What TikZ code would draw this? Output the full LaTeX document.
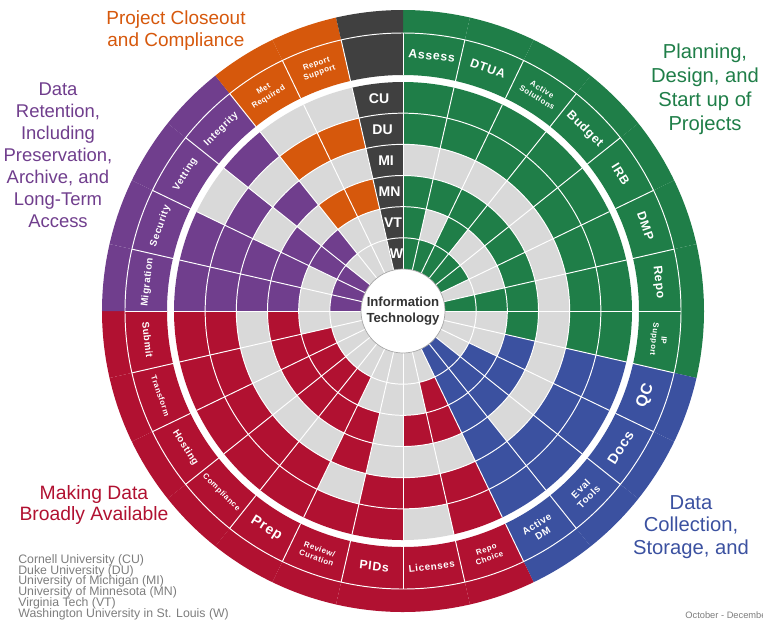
\documentclass[tikz,border=0pt]{standalone}
\usepackage{fontspec}
\setmainfont{Liberation Sans}
\newfontfamily\tagfont[LetterSpace=6]{Liberation Sans}
\newcommand{\packedlines}{\lineskiplimit=-10pt\lineskip=0pt\relax}

\definecolor{plangreen}{RGB}{31,126,72}
\definecolor{collectblue}{RGB}{59,81,160}
\definecolor{sharered}{RGB}{177,17,49}
\definecolor{keeppurple}{RGB}{112,62,141}
\definecolor{closeorange}{RGB}{214,88,12}
\definecolor{itgray}{RGB}{64,64,64}
\definecolor{cellgray}{RGB}{217,217,217}
\definecolor{notegray}{RGB}{125,125,125}

% one cell of the wheel: start angle, end angle, outer radius, inner radius, colour
\newcommand{\wheelcell}[5]{%
  \fill[fill=#5] (#1:#3) arc[start angle=#1,end angle=#2,radius=#3]
    -- (#2:#4) arc[start angle=#2,end angle=#1,radius=#4] -- cycle;}

\begin{document}
\begin{tikzpicture}
  [x=0.02cm,y=0.02cm,
   sep/.style={white,line width=0.55pt},
   tag/.style={text=white,align=center,inner sep=0pt},
   tagbig/.style={tag,font=\tagfont\bfseries\fontsize{7}{8}\selectfont},
   tagmid/.style={tag,font=\tagfont\bfseries\fontsize{5.6}{6.4}\selectfont},
   tagsmall/.style={tag,font=\tagfont\bfseries\fontsize{4.5}{5.3}\selectfont},
   site/.style={text=white,font=\bfseries\fontsize{8}{9}\selectfont},
   phase/.style={align=center,font=\fontsize{11.5}{13.6}\selectfont}]
  \useasboundingbox (-403,-309) rectangle (360,311);

  % services clockwise from the top; CU DU MI MN VT W, 1 = covered
  \foreach \j/\col/\ba/\bb/\bc/\bd/\be/\bf in {
      0/plangreen/1/1/0/1/1/1,   1/plangreen/1/1/0/1/0/1,
      2/plangreen/1/1/0/1/1/1,   3/plangreen/1/1/0/1/0/1,
      4/plangreen/1/1/0/1/0/1,   5/plangreen/1/1/0/1/0/0,
      6/plangreen/1/1/0/1/1/1,   7/plangreen/1/1/0/1/0/0,
      8/collectblue/1/1/0/1/0/0, 9/collectblue/1/1/0/1/1/0,
      10/collectblue/1/1/0/1/1/1, 11/collectblue/1/1/1/1/1/1,
      12/sharered/1/1/0/1/1/0,   13/sharered/0/1/0/1/0/0,
      14/sharered/1/1/0/0/0/0,   15/sharered/1/0/1/1/0/0,
      16/sharered/1/1/0/1/1/0,   17/sharered/1/1/0/1/1/0,
      18/sharered/1/1/0/1/1/0,   19/sharered/1/1/0/1/1/0,
      20/sharered/1/1/0/1/0/0,
      21/keeppurple/1/1/1/1/0/1, 22/keeppurple/1/1/1/1/0/1,
      23/keeppurple/0/1/0/1/1/1, 24/keeppurple/1/0/1/0/1/0,
      25/closeorange/0/1/0/1/0/0, 26/closeorange/0/1/0/1/0/0,
      27/itgray/1/1/1/1/1/1}{
    \pgfmathsetmacro\aa{90-\j*360/28}
    \pgfmathsetmacro\ab{\aa-360/28}
    \wheelcell{\aa}{\ab}{301}{236}{\col}
    \foreach \b [count=\i from 0] in {\ba,\bb,\bc,\bd,\be,\bf}{
      \pgfmathsetmacro\ro{229-\i*187/6}
      \pgfmathsetmacro\ri{\ro-187/6}
      \ifnum\b=1 \wheelcell{\aa}{\ab}{\ro}{\ri}{\col}
      \else \wheelcell{\aa}{\ab}{\ro}{\ri}{cellgray}\fi
    }
  }

  % thin white grid
  \foreach \k in {1,...,5}
    \draw[sep] (0,0) circle[radius=42+\k*187/6];
  \draw[sep] (0,0) circle[radius=278];
  \foreach \j in {0,...,27}{
    \draw[sep] (90-\j*360/28:42) -- (90-\j*360/28:229);
    \draw[sep] (90-\j*360/28:236) -- (90-\j*360/28:278);
  }

  \node (itcore) [circle,draw=gray!70,fill=white,minimum size=1.68cm,inner sep=0pt,
    align=center,text=black!80,font=\bfseries\fontsize{7.5}{9}\selectfont]
    at (0,0) {Information\\Technology};

  % institutions down the IT column
  \foreach \s [count=\i from 0] in {CU,DU,MI,MN,VT,W}
    \node[site] (site\s) at (96.43:213.4-\i*31.1667) {\s};

  % service names in the outer ring
  \node[tagbig,rotate=-6.43] (assess) at (83.57:257) {Assess};
  \node[tagbig,rotate=-19.29] (dtua) at (70.71:257) {DTUA};
  \node[tagsmall,rotate=-32.14] (activesol) at (57.86:257) {Active\\Solutions};
  \node[tagbig,rotate=-45] (budget) at (45:257) {Budget};
  \node[tagbig,rotate=-57.86] (irb) at (32.14:257) {IRB};
  \node[tagbig,rotate=-70.71] (dmp) at (19.29:257) {DMP};
  \node[tagbig,rotate=-83.57] (repo) at (6.43:257) {Repo};
  \node[tagsmall,rotate=-96.43] (ipsupport) at (-6.43:257) {IP\\Support};
  \node[tagbig,font=\tagfont\bfseries\fontsize{9}{10}\selectfont,rotate=70.71] (qc) at (-19.29:257) {QC};
  \node[tagbig,font=\tagfont\bfseries\fontsize{8}{9}\selectfont,rotate=57.86] (docs) at (-32.14:257) {Docs};
  \node[tagmid,rotate=45] (evaltools) at (-45:257) {Eval\\Tools};
  \node[tagmid,rotate=32.14] (activedm) at (-57.86:257) {Active\\DM};
  \node[tagsmall,rotate=19.29] (repochoice) at (-70.71:257) {Repo\\Choice};
  \node[tagmid,rotate=6.43] (licenses) at (-83.57:257) {Licenses};
  \node[tagbig,rotate=-6.43] (pids) at (-96.43:257) {PIDs};
  \node[tagsmall,rotate=-19.29] (review) at (-109.29:257) {Review/\\Curation};
  \node[tagbig,font=\tagfont\bfseries\fontsize{8}{9}\selectfont,rotate=-32.14] (prep) at (-122.14:257) {Prep};
  \node[tagsmall,rotate=-45] (compliance) at (-135:257) {Compliance};
  \node[tagmid,rotate=-57.86] (hosting) at (-147.86:257) {Hosting};
  \node[tagsmall,rotate=-70.71] (transform) at (-160.71:257) {Transform};
  \node[tagmid,rotate=-83.57] (submit) at (-173.57:257) {Submit};
  \node[tagmid,rotate=83.57] (migration) at (173.57:257) {Migration};
  \node[tagmid,rotate=70.71] (security) at (160.71:257) {Security};
  \node[tagmid,rotate=57.86] (vetting) at (147.86:257) {Vetting};
  \node[tagmid,rotate=45] (integrity) at (135:257) {Integrity};
  \node[tagsmall,rotate=32.14] (metreq) at (122.14:257) {Met\\Required};
  \node[tagsmall,rotate=19.29] (reportsup) at (109.29:257) {Report\\Support};

  % phase headings
  \node[phase,text=plangreen] (plantitle) at (302,222)
    {Planning,\\Design, and\\Start up of\\Projects};
  \node[phase,text=closeorange,font=\fontsize{10.8}{12.5}\selectfont] (closetitle) at (-227,280)
    {Project Closeout\\and Compliance};
  \node[phase,text=keeppurple,font=\fontsize{10.5}{12.5}\selectfont] (keeptitle) at (-345,156)
    {Data\\Retention,\\Including\\Preservation,\\Archive, and\\Long-Term\\Access};
  \node[phase,text=sharered,font=\fontsize{11}{12.5}\selectfont] (sharetitle) at (-309,-194)
    {Making Data\\Broadly Available};
  \node[phase,text=collectblue,font=\fontsize{11.5}{12.6}\selectfont] (collecttitle) at (288,-216)
    {Data\\Collection,\\Storage, and};

  \node[anchor=north west,align=left,inner sep=0pt,text=notegray,
    font=\fontsize{7}{6.15}\selectfont\packedlines] (sitelist) at (-385,-243)
    {Cornell University (CU)\\Duke University (DU)\\University of Michigan (MI)\\
     University of Minnesota (MN)\\Virginia Tech (VT)\\
     Washington University in St. Louis (W)};
  \node[anchor=west,inner sep=0pt,text=notegray,font=\fontsize{5.3}{6}\selectfont]
    (period) at (282,-304) {October - December};
\end{tikzpicture}
\end{document}
